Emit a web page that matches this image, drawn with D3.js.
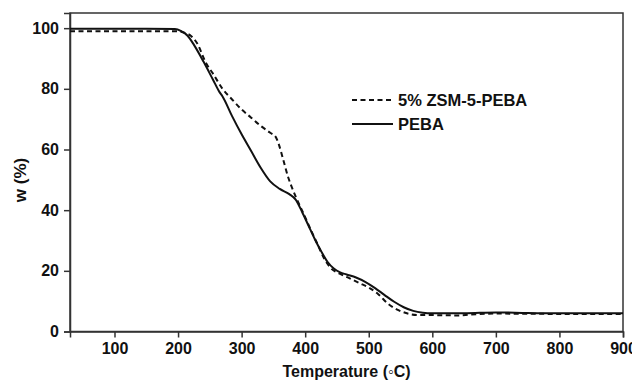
<!DOCTYPE html>
<html>
<head>
  <meta charset="utf-8">
  <title>TGA</title>
  <script src="https://cdnjs.cloudflare.com/ajax/libs/d3/7.8.5/d3.min.js"></script>
  <style>
    body { margin: 0; background: #fff; }
    text { font-family: "Liberation Sans", Arial, sans-serif; font-weight: bold; fill: #111; }
  </style>
</head>
<body>
<div id="vis"></div>
<script>
var W = 632, H = 383;
var m = {left: 70, right: 9, top: 13, bottom: 51.5};

// PEBA (solid)
var pebaT = [30, 100, 150, 195, 205, 215, 225, 240, 255, 265, 270, 285, 300, 315, 330, 345, 360, 375, 385, 395, 405, 415, 425, 435, 445, 455, 465, 480, 495, 510, 525, 540, 555, 570, 585, 600, 650, 700, 750, 800, 850, 900];
var pebaW = [99.8, 99.8, 99.8, 99.7, 99, 97.5, 94.5, 89, 83, 79, 77.5, 71, 65, 59.5, 54, 49.5, 47, 45.3, 43.5, 39.5, 35, 30.5, 26.5, 23, 20.8, 19.5, 18.8, 17.8, 16.3, 14.3, 12, 9.8, 8, 6.8, 6.2, 6.0, 6.0, 6.3, 6.1, 6.0, 6.0, 6.0];

// 5% ZSM-5-PEBA (dashed)
var zsmT = [30, 100, 150, 200, 210, 220, 230, 244, 255, 270, 285, 300, 315, 330, 345, 354, 358, 365, 373, 380, 386, 396, 410, 420, 430, 440, 455, 470, 485, 500, 515, 530, 545, 560, 580, 600, 640, 660, 700, 800, 900];
var zsmW = [99.0, 99.0, 99.0, 99.0, 98.5, 97.5, 95, 88.5, 85, 80, 76.5, 73.2, 70.5, 67.8, 65.5, 64, 62, 57, 51, 47, 44, 39.5, 33, 28.5, 24, 21, 19, 17.5, 16, 14.5, 12.3, 9.2, 7.2, 6, 5.4, 5.4, 5.3, 5.6, 5.9, 5.8, 5.8];

var xTicks = [100, 200, 300, 400, 500, 600, 700, 800, 900];
var xMinor = [50, 150, 250, 350, 450, 550, 650, 750, 850];
var yTicks = [0, 20, 40, 60, 80, 100];
var yMinor = [10, 30, 50, 70, 90];

var svg = d3.select("#vis").append("svg")
  .attr("width", W)
  .attr("height", H);

var x = d3.scaleLinear().domain([30, 900]).range([m.left, W - m.right]);
var y = d3.scaleLinear().domain([0, 105]).range([H - m.bottom, m.top]);

// frame
svg.append("rect")
  .attr("x", m.left).attr("y", m.top)
  .attr("width", W - m.right - m.left)
  .attr("height", H - m.bottom - m.top)
  .attr("fill", "none").attr("stroke", "#333").attr("stroke-width", 1.5);

var gx = svg.append("g").attr("transform", "translate(0," + (H - m.bottom) + ")");
gx.call(d3.axisBottom(x).tickValues(xMinor).tickSize(4).tickFormat(""));
gx.call(d3.axisBottom(x).tickValues(xTicks).tickSize(6).tickPadding(5).tickFormat(d3.format("d")));

var gy = svg.append("g").attr("transform", "translate(" + m.left + ",0)");
gy.call(d3.axisLeft(y).tickValues(yMinor).tickSize(4).tickFormat(""));
gy.call(d3.axisLeft(y).tickValues(yTicks).tickSize(6).tickPadding(5).tickFormat(d3.format("d")));

svg.selectAll(".domain").attr("stroke", "#333").attr("stroke-width", 1.5);
svg.selectAll(".tick line").attr("stroke", "#333").attr("stroke-width", 1.5);
svg.selectAll(".tick text").style("font-size", "16px").style("font-family", "Liberation Sans, Arial, sans-serif").style("font-weight", "bold").attr("fill", "#111");

var line = d3.line()
  .x(function(d) { return x(d[0]); })
  .y(function(d) { return y(d[1]); })
  .curve(d3.curveMonotoneX);

svg.append("path")
  .datum(pebaT.map(function(t, i) { return [t, pebaW[i]]; }))
  .attr("d", line)
  .attr("fill", "none").attr("stroke", "#111").attr("stroke-width", 2);

svg.append("path")
  .datum(zsmT.map(function(t, i) { return [t, zsmW[i]]; }))
  .attr("d", line)
  .attr("fill", "none").attr("stroke", "#111").attr("stroke-width", 2)
  .attr("stroke-dasharray", "5,3.5");

// legend
var leg = [
  {name: "5% ZSM-5-PEBA", dash: "5,3.5"},
  {name: "PEBA", dash: null}
];
leg.forEach(function(d, i) {
  var ly = 100 + i * 24;
  svg.append("line")
    .attr("x1", 352).attr("x2", 393)
    .attr("y1", ly).attr("y2", ly)
    .attr("stroke", "#111").attr("stroke-width", 2)
    .attr("stroke-dasharray", d.dash);
  svg.append("text")
    .attr("x", 398).attr("y", ly + 6)
    .style("font-size", "16.5px")
    .text(d.name);
});

// axis titles
svg.append("text")
  .attr("x", (m.left + W - m.right) / 2)
  .attr("y", 377)
  .attr("text-anchor", "middle")
  .style("font-size", "16px")
  .text("Temperature (\u25E6C)");

svg.append("text")
  .attr("transform", "translate(26,180) rotate(-90)")
  .attr("text-anchor", "middle")
  .style("font-size", "17px")
  .text("w (%)");
</script>
</body>
</html>
